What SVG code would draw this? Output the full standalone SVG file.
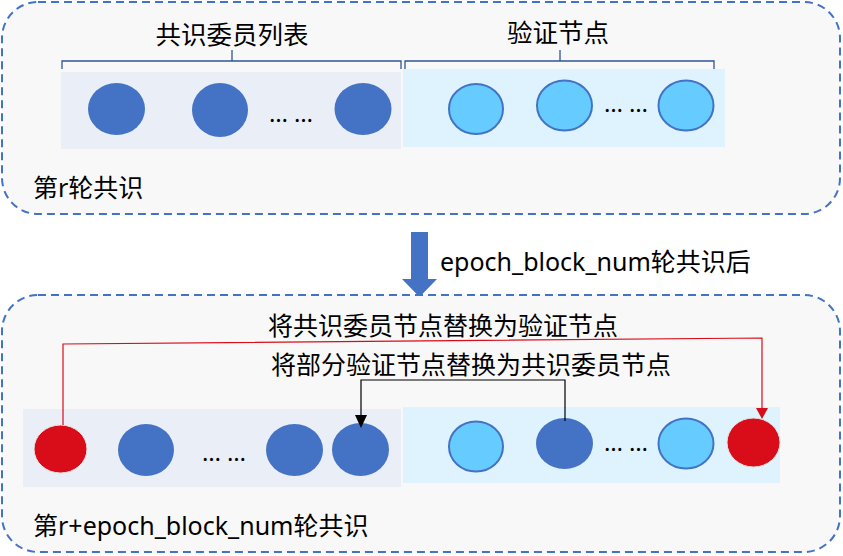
<svg xmlns="http://www.w3.org/2000/svg" width="843" height="556" viewBox="0 0 843 556">
<defs>
<style>
.box{fill:#F8F8F8;stroke:#4472C4;stroke-width:2;stroke-dasharray:8,5}
.pl{fill:#EAEEF7}
.pr{fill:#DEF3FE}
.dk{fill:#4472C4}
.lt{fill:#66CCFF;stroke:#4472C4;stroke-width:2}
.rd{fill:#D90D19;stroke:#E6E6E6;stroke-width:1}
.br{fill:none;stroke:#2F5597;stroke-width:1.3}
.t{font-family:"Noto Sans","Noto Sans CJK SC",sans-serif;font-size:25px;fill:#000}
.tl{font-size:25.5px}
.dots{font-family:"Noto Sans","Noto Sans CJK SC",sans-serif;font-size:24px;fill:#000}
</style>
</defs>

<g id="round-r">
<rect class="box" x="2" y="2" width="838" height="212" rx="36"/>
<rect class="pl" x="61" y="72" width="340" height="77"/>
<rect class="pr" x="403" y="69" width="322" height="78"/>
<path class="br" d="M62,69 V61 H401 V69 M232,61 V50"/>
<path class="br" d="M405,69 V61 H714 V69 M560,61 V50"/>
<text class="t tl" x="232" y="44" text-anchor="middle">共识委员列表</text>
<text class="t tl" x="558" y="42" text-anchor="middle">验证节点</text>
<text class="t" x="33" y="197">第r轮共识</text>
</g>

<g id="top-committee-nodes">
<ellipse class="dk" cx="116.5" cy="109" rx="28.5" ry="26"/>
<ellipse class="dk" cx="220" cy="110" rx="28" ry="27"/>
<text class="dots" x="291" y="122" text-anchor="middle">… …</text>
<ellipse class="dk" cx="363" cy="109" rx="28.5" ry="26"/>
</g>

<g id="top-validator-nodes">
<ellipse class="lt" cx="476" cy="109" rx="27" ry="25"/>
<ellipse class="lt" cx="564.5" cy="105.5" rx="27.5" ry="25"/>
<text class="dots" x="626" y="112" text-anchor="middle">… …</text>
<ellipse class="lt" cx="686" cy="105.5" rx="27.5" ry="25"/>
</g>

<g id="transition">
<path d="M411,232 H428 V279 H437 L419.5,297 L402,279 H411 Z" fill="#4472C4"/>
<text class="t" x="440" y="271">epoch_block_num轮共识后</text>
</g>

<g id="round-r-plus">
<rect class="box" x="2" y="295" width="838" height="257" rx="36"/>
<rect class="pl" x="23" y="409" width="378" height="78"/>
<rect class="pr" x="403" y="407" width="377" height="76"/>
<text class="t" x="268" y="335">将共识委员节点替换为验证节点</text>
<text class="t" x="271" y="374">将部分验证节点替换为共识委员节点</text>
<text class="t" x="33" y="535">第r+epoch_block_num轮共识</text>
</g>

<g id="bottom-committee-nodes">
<ellipse class="rd" cx="60.5" cy="449" rx="26.5" ry="24"/>
<ellipse class="dk" cx="146" cy="450" rx="28" ry="26"/>
<text class="dots" x="224" y="461" text-anchor="middle">… …</text>
<ellipse class="dk" cx="294.5" cy="450" rx="28.5" ry="26"/>
<ellipse class="dk" cx="360.5" cy="449.5" rx="28.5" ry="26.5"/>
</g>

<g id="bottom-validator-nodes">
<ellipse class="lt" cx="476" cy="446.5" rx="27" ry="25"/>
<ellipse class="dk" cx="564.5" cy="443.5" rx="28.5" ry="25.5"/>
<text class="dots" x="626" y="451" text-anchor="middle">… …</text>
<ellipse class="lt" cx="686" cy="443.5" rx="27.5" ry="25"/>
<ellipse class="rd" cx="753.5" cy="442.5" rx="26.5" ry="24.5"/>
</g>

<g id="connectors">
<polyline points="63,425 63,344 762,338 762,409" fill="none" stroke="#D90D19" stroke-width="1.2"/>
<path d="M756,408 L768,408 L762,419 Z" fill="#D90D19"/>
<polyline points="565,421 565,380 361,380 361,415" fill="none" stroke="#000" stroke-width="1.2"/>
<path d="M355,415 L367,415 L361,428 Z" fill="#000"/>
</g>
</svg>
